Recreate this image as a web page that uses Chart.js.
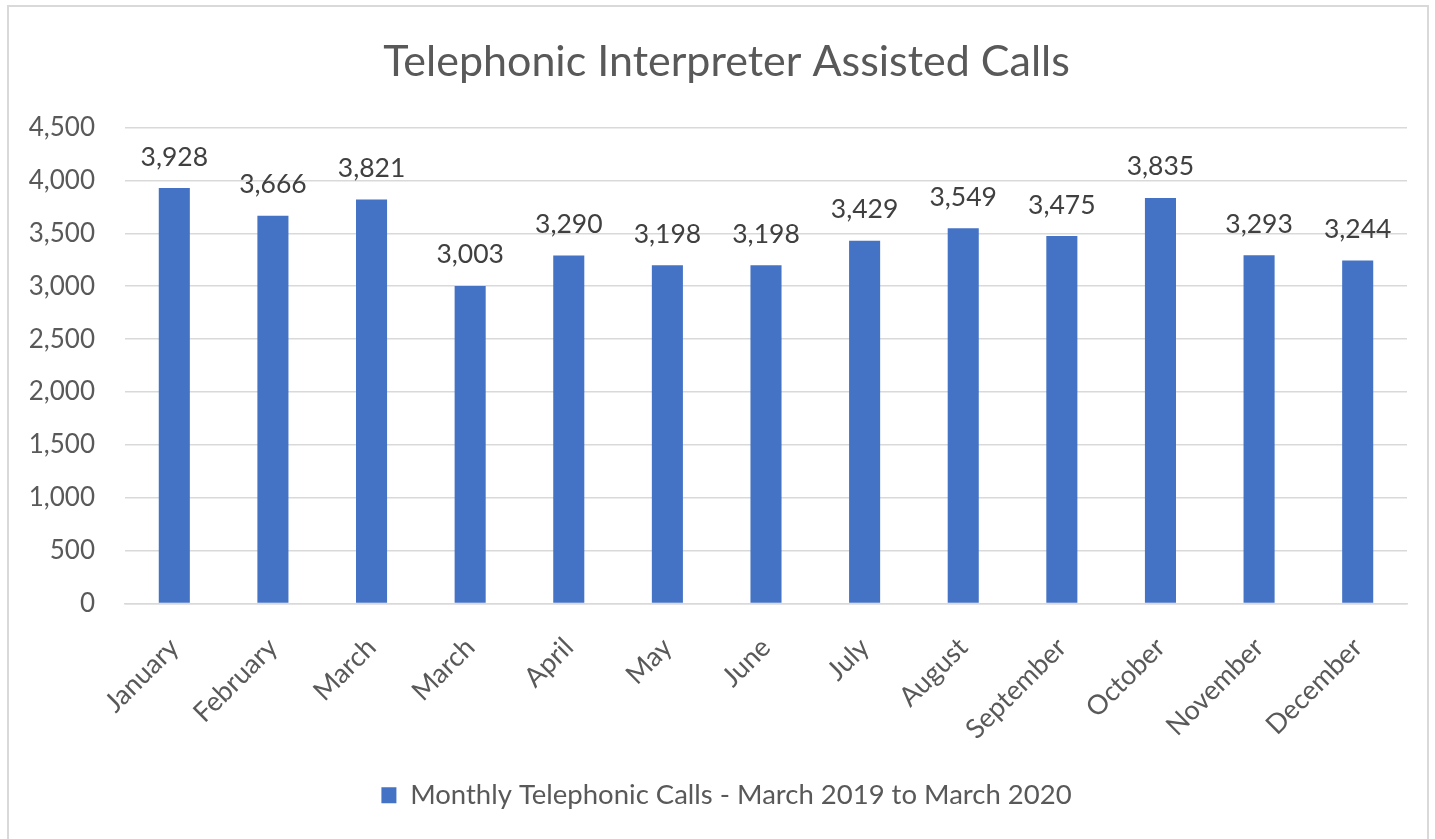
<!DOCTYPE html>
<html>
<head>
<meta charset="utf-8">
<script src="https://cdn.jsdelivr.net/npm/chart.js@4.4.1/dist/chart.umd.min.js"></script>
<style>
  html, body { margin: 0; padding: 0; background: #fff; }
  canvas { display: block; }
</style>
</head>
<body>
<canvas id="chart" width="1435" height="839"></canvas>
<script>
// data
const months = ['January', 'February', 'March', 'March', 'April', 'May', 'June',
                'July', 'August', 'September', 'October', 'November', 'December'];
const calls = [3928, 3666, 3821, 3003, 3290, 3198, 3198, 3429, 3549, 3475, 3835, 3293, 3244];
const yMax = 4500;
const yStep = 500;
const seriesName = 'Monthly Telephonic Calls - March 2019 to March 2020';
const chartTitle = 'Telephonic Interpreter Assisted Calls';

const FONT = 'Lato, "Open Sans", sans-serif';
const BLUE = '#4472C4';

// white background + thin frame round the whole chart
const framePlugin = {
    id: 'frame',
    beforeDraw(chart) {
        const c = chart.ctx;
        c.save();
        c.fillStyle = '#fff';
        c.fillRect(0, 0, chart.width, chart.height);
        c.strokeStyle = '#d9d9d9';
        c.lineWidth = 2;
        c.strokeRect(8, 6, 1420, 850);
        c.restore();
    }
};

// title and legend sit a bit right of the plot centre in the picture
const shiftBlocks = {
    id: 'shiftBlocks',
    afterLayout(chart) {
        const dx = 23;
        [chart.titleBlock, chart.legend].forEach(b => {
            if (b) { b.left += dx; b.right += dx; }
        });
    }
};

// value labels above each bar
const barLabels = {
    id: 'barLabels',
    afterDatasetsDraw(chart) {
        const c = chart.ctx;
        const meta = chart.getDatasetMeta(0);
        c.save();
        c.font = '26.5px ' + FONT;
        c.fillStyle = '#404040';
        c.textAlign = 'center';
        c.textBaseline = 'middle';
        meta.data.forEach((bar, i) => {
            c.fillText(calls[i].toLocaleString('en-US'), bar.x, bar.y - 31);
        });
        c.restore();
    }
};

new Chart(document.getElementById('chart'), {
    type: 'bar',
    data: {
        labels: months,
        datasets: [{
            label: seriesName,
            data: calls,
            backgroundColor: BLUE,
            borderWidth: 0,
            categoryPercentage: 1,
            barPercentage: 0.315
        }]
    },
    options: {
        responsive: false,
        animation: false,
        layout: { padding: { left: 0, right: 28, top: 0, bottom: 20 } },
        plugins: {
            title: {
                display: true,
                text: chartTitle,
                color: '#595959',
                font: { family: FONT, size: 43, weight: 'normal' },
                padding: { top: 36, bottom: 40 }
            },
            legend: {
                position: 'bottom',
                labels: {
                    color: '#595959',
                    font: { family: FONT, size: 27.5 },
                    boxWidth: 15,
                    boxHeight: 16,
                    padding: 10
                }
            },
            tooltip: { enabled: false }
        },
        scales: {
            x: {
                grid: { display: false },
                border: { color: '#d9d9d9', width: 1.5 },
                ticks: {
                    color: '#595959',
                    font: { family: FONT, size: 27 },
                    maxRotation: 45,
                    minRotation: 45,
                    autoSkip: false,
                    padding: 20
                },
                afterFit(scale) { scale.height = 168; }
            },
            y: {
                min: 0,
                max: yMax,
                border: { display: false },
                grid: { color: '#d9d9d9', lineWidth: 1.5, drawTicks: false },
                ticks: {
                    stepSize: yStep,
                    color: '#595959',
                    font: { family: FONT, size: 26 },
                    padding: 30,
                    callback: v => v.toLocaleString('en-US')
                },
                afterFit(scale) { scale.width = 125; }
            }
        }
    },
    plugins: [framePlugin, shiftBlocks, barLabels]
});
</script>
</body>
</html>
